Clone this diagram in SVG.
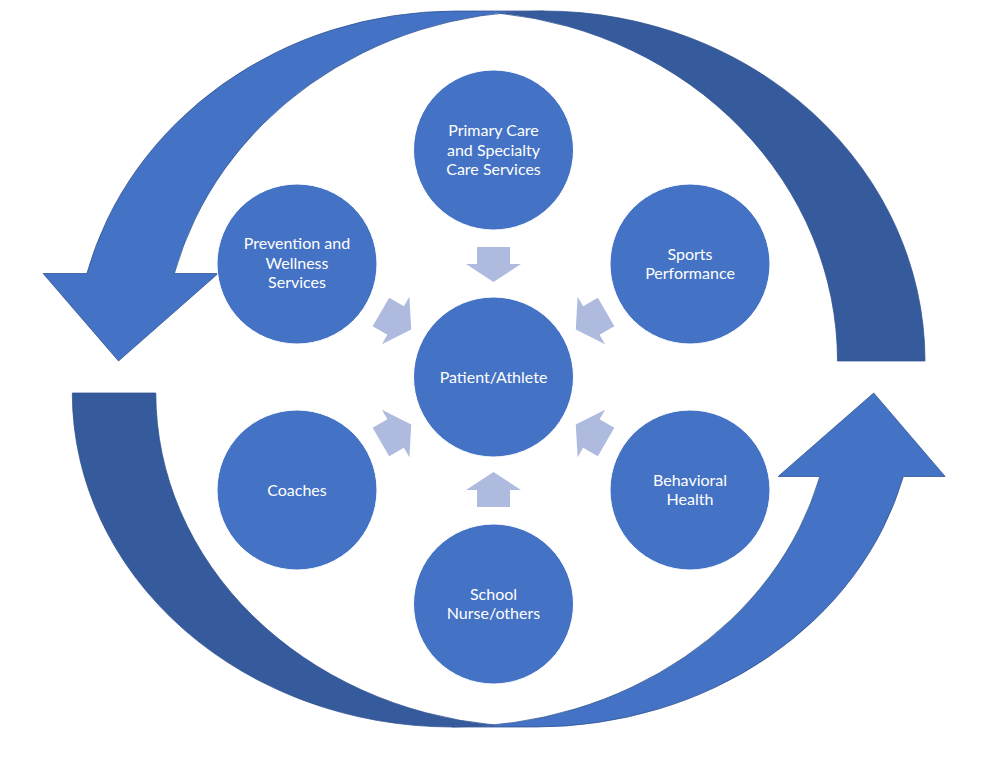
<svg xmlns="http://www.w3.org/2000/svg" xmlns:xlink="http://www.w3.org/1999/xlink" width="987" height="762" viewBox="0 0 987 762">
  <style>
    .node { fill: #4472C4; stroke: #FFFFFF; stroke-width: 1; }
    .lbl { fill: #FFFFFF; font-family: Lato, "Open Sans", "DejaVu Sans", sans-serif; font-size: 16px; text-anchor: middle; }
    .front { fill: #4472C4; stroke: none; }
    .back { fill: #365B9D; stroke: none; }
    .outline { fill: none; stroke: #2F528F; stroke-width: 0.75; stroke-linejoin: miter; }
    .spoke { fill: #AEBBDF; stroke: none; }
  </style>
  <defs>
    <polygon id="spokeArrow" points="-16.5,-17 16.5,-17 16.5,0 27.5,0 0,18 -27.5,0 -16.5,0"/>
  </defs>
  <rect width="987" height="762" fill="#FFFFFF"/>

  <g id="cycle-arrows">
    <g id="top-arrow">
      <path class="front" d="M118.5,361 L218.1,273.5 L174.355,273.5 A381.375,350 0 0 1 543.625,11 L456.125,11 A381.375,350 0 0 0 86.855,273.5 L43.105,273.5 Z"/>
      <path class="back" d="M499.875,13.31 A381.375,350 0 0 1 837.5,361 L925,361 A381.375,350 0 0 0 499.875,13.31 Z"/>
      <path class="outline" d="M499.875,13.31 A381.375,350 0 0 1 837.5,361 L925,361 A381.375,350 0 0 0 543.625,11 L456.125,11 A381.375,350 0 0 0 86.855,273.5 L43.105,273.5 L118.5,361 L218.1,273.5 L174.355,273.5 A381.375,350 0 0 1 543.625,11"/>
    </g>
    <g id="bottom-arrow">
      <path class="front" d="M873.7,393 L778.135,476.5 L819.885,476.5 A379.825,334 0 0 1 452.125,727 L535.625,727 A379.825,334 0 0 0 903.385,476.5 L945.135,476.5 Z"/>
      <path class="back" d="M493.875,724.976 A379.825,334 0 0 1 155.8,393 L72.3,393 A379.825,334 0 0 0 493.875,724.976 Z"/>
      <path class="outline" d="M493.875,724.976 A379.825,334 0 0 1 155.8,393 L72.3,393 A379.825,334 0 0 0 452.125,727 L535.625,727 A379.825,334 0 0 0 903.385,476.5 L945.135,476.5 L873.7,393 L778.135,476.5 L819.885,476.5 A379.825,334 0 0 1 452.125,727"/>
    </g>
  </g>

  <g id="connectors">
    <use xlink:href="#spokeArrow" href="#spokeArrow" class="spoke" transform="translate(493.5,377) rotate(0) translate(0,-113)"/>
    <use xlink:href="#spokeArrow" href="#spokeArrow" class="spoke" transform="translate(493.5,377) rotate(60) translate(0,-113)"/>
    <use xlink:href="#spokeArrow" href="#spokeArrow" class="spoke" transform="translate(493.5,377) rotate(120) translate(0,-113)"/>
    <use xlink:href="#spokeArrow" href="#spokeArrow" class="spoke" transform="translate(493.5,377) rotate(180) translate(0,-113)"/>
    <use xlink:href="#spokeArrow" href="#spokeArrow" class="spoke" transform="translate(493.5,377) rotate(240) translate(0,-113)"/>
    <use xlink:href="#spokeArrow" href="#spokeArrow" class="spoke" transform="translate(493.5,377) rotate(300) translate(0,-113)"/>
  </g>

  <g id="node-center">
    <circle class="node" cx="493.5" cy="377" r="80"/>
    <text class="lbl" x="493.5" y="382.5">Patient/Athlete</text>
  </g>
  <g id="node-primary-care">
    <circle class="node" cx="493.5" cy="150" r="80"/>
    <text class="lbl" x="493.5" y="136">Primary Care</text>
    <text class="lbl" x="493.5" y="155.5">and Specialty</text>
    <text class="lbl" x="493.5" y="175">Care Services</text>
  </g>
  <g id="node-sports">
    <circle class="node" cx="690" cy="264" r="80"/>
    <text class="lbl" x="690" y="259.5">Sports</text>
    <text class="lbl" x="690" y="279">Performance</text>
  </g>
  <g id="node-behavioral">
    <circle class="node" cx="690" cy="490" r="80"/>
    <text class="lbl" x="690" y="485.5">Behavioral</text>
    <text class="lbl" x="690" y="505">Health</text>
  </g>
  <g id="node-school">
    <circle class="node" cx="493.5" cy="604" r="80"/>
    <text class="lbl" x="493.5" y="599.5">School</text>
    <text class="lbl" x="493.5" y="619">Nurse/others</text>
  </g>
  <g id="node-coaches">
    <circle class="node" cx="297" cy="490" r="80"/>
    <text class="lbl" x="297" y="495.5">Coaches</text>
  </g>
  <g id="node-prevention">
    <circle class="node" cx="297" cy="264" r="80"/>
    <text class="lbl" x="297" y="249">Prevention and</text>
    <text class="lbl" x="297" y="268.5">Wellness</text>
    <text class="lbl" x="297" y="288">Services</text>
  </g>
</svg>
